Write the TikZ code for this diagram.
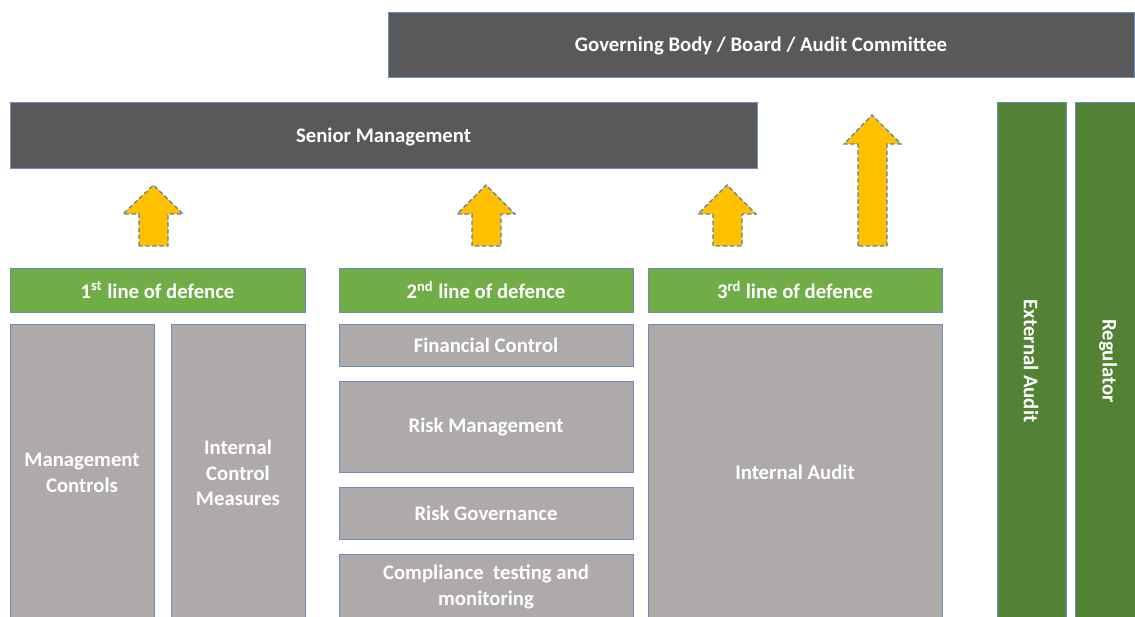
\documentclass[tikz,border=0pt]{standalone}
\usepackage{fontspec}
\setmainfont{Carlito}
\usetikzlibrary{fit}
\definecolor{darkbox}{HTML}{595959}
\definecolor{hgreen}{HTML}{70AD47}
\definecolor{dgreen}{HTML}{548235}
\definecolor{boxgray}{HTML}{AEAAAA}
\definecolor{edgeblue}{HTML}{6E8DB4}
\definecolor{arrowfill}{HTML}{FFC000}
\definecolor{arrowedge}{HTML}{5B7FA6}
\begin{document}
\begin{tikzpicture}[x=0.02cm,y=-0.02cm,
  base/.style={draw=edgeblue,line width=0.5pt,inner sep=0pt,text=white,
    font=\fontsize{11.8}{14.5}\selectfont\bfseries,align=center},
  darkbox/.style={base,fill=darkbox},
  headbox/.style={base,fill=hgreen},
  sidebox/.style={base,fill=dgreen},
  graybox/.style={base,fill=boxgray},
  uparrow/.style={fill=arrowfill,draw=arrowedge,line width=0.7pt,dash pattern=on 2.5pt off 1.5pt,line join=miter}]
\useasboundingbox (0,0) rectangle (1135,617);
\fill[white] (0,0) rectangle (1135,617);

\node[darkbox,fit={(388,12)(1134,77)}] (gov) {};
\node at ([yshift=-0.03cm]gov.center) [text=white,font=\fontsize{11.8}{14.5}\selectfont\bfseries] (govt) {Governing Body / Board / Audit Committee};
\node[darkbox,fit={(10,102)(757,168)}] (sen) {};
\node at ([yshift=-0.03cm]sen.center) [text=white,font=\fontsize{11.8}{14.5}\selectfont\bfseries] (sent) {Senior Management};

\node[sidebox,fit={(997,102)(1066,620)}] (ext) {};
\node[sidebox,fit={(1075,102)(1138,620)}] (reg) {};
\node at (1031,361) [rotate=-90,text=white,font=\fontsize{11.8}{14.5}\selectfont\bfseries] (extt) {External Audit};
\node at (1108,361) [rotate=-90,text=white,font=\fontsize{11.8}{14.5}\selectfont\bfseries] (regt) {Regulator};

\node[headbox,fit={(10,268)(305,312)}] (l1) {};
\node at (l1.center) [text=white,font=\fontsize{11.8}{14.5}\selectfont\bfseries] (l1t) {1\textsuperscript{st} line of defence};
\node[headbox,fit={(339,268)(633,312)}] (l2) {};
\node at (l2.center) [text=white,font=\fontsize{11.8}{14.5}\selectfont\bfseries] (l2t) {2\textsuperscript{nd} line of defence};
\node[headbox,fit={(648,268)(942,312)}] (l3) {};
\node at (l3.center) [text=white,font=\fontsize{11.8}{14.5}\selectfont\bfseries] (l3t) {3\textsuperscript{rd} line of defence};

\node[graybox,fit={(10,324)(154,620)}] (mc) {};
\node at (82,473) [base,draw=none] (mct) {Management\\Controls};
\node[graybox,fit={(171,324)(305,620)}] (icm) {};
\node at (238,473) [base,draw=none] (icmt) {Internal\\Control\\Measures};

\node[graybox,fit={(339,324)(633,366)}] (fc) {};
\node at (fc.center) [base,draw=none] (fct) {Financial Control};
\node[graybox,fit={(339,381)(633,472)}] (rm) {};
\node at (rm.center) [base,draw=none] (rmt) {Risk Management};
\node[graybox,fit={(339,487)(633,539)}] (rg) {};
\node at (rg.center) [base,draw=none] (rgt) {Risk Governance};
\node[graybox,fit={(339,554)(633,620)}] (ct) {};
\node at (486,587) [base,draw=none] (ctt) {Compliance~ testing and\\monitoring};

\node[graybox,fit={(648,324)(942,620)}] (ia) {};
\node at (795,472) [base,draw=none] (iat) {Internal Audit};

% block arrows
\draw[uparrow] (139,246) -- (139,214) -- (123,214) -- (153.5,185) -- (183,214) -- (168,214) -- (168,246) -- cycle;
\draw[uparrow] (472,246) -- (472,214) -- (457,214) -- (486,185) -- (515,214) -- (501,214) -- (501,246) -- cycle;
\draw[uparrow] (713,246) -- (713,214) -- (698,214) -- (727,185) -- (756,214) -- (742,214) -- (742,246) -- cycle;
\draw[uparrow] (858,246) -- (858,144) -- (844,144) -- (872,115) -- (901,144) -- (887,144) -- (887,246) -- cycle;
\end{tikzpicture}
\end{document}
